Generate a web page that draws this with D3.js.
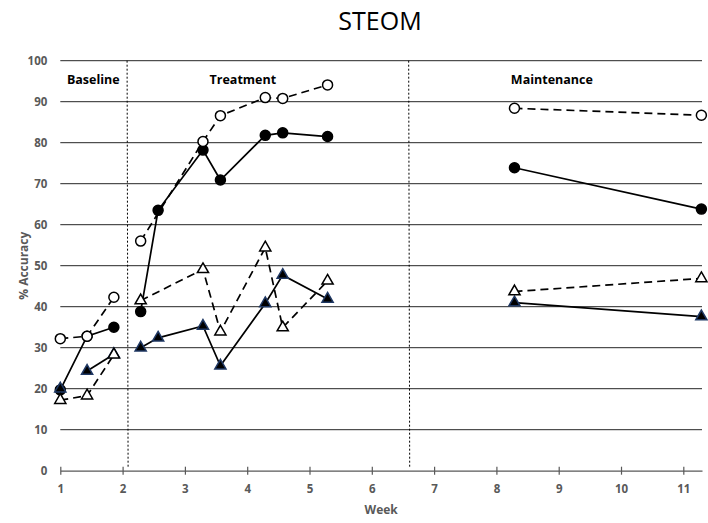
<!DOCTYPE html>
<html>
<head>
<meta charset="utf-8">
<script src="https://cdnjs.cloudflare.com/ajax/libs/d3/7.8.5/d3.min.js"></script>
<style>
  body { margin: 0; background: #fff; }
  text { font-family: "Open Sans", sans-serif; }
</style>
</head>
<body>
<div id="main"></div>
<script>
// data
var weeks = [1, 1.43, 1.86, 2.29, 2.57, 3.29, 3.57, 4.29, 4.57, 5.29, 8.29, 11.29];
// segment ids: lines only join points with the same id
var phaseIds = ["B", "B", "B", "T", "T", "T", "T", "T", "T", "T", "M", "M"];
var filledTriangleIds = ["B0", "B", "B", "T", "T", "T", "T", "T", "T", "T", "M", "M"];

var openCircle = [32.2, 32.8, 42.3, 56.0, null, 80.3, 86.6, 91.0, 90.8, 94.1, 88.4, 86.7];
var filledCircle = [19.7, 32.8, 35.0, 38.8, 63.5, 78.2, 70.9, 81.8, 82.4, 81.5, 73.9, 63.8];
var openTriangle = [17.2, 18.3, 28.3, 41.5, null, 49.1, 33.9, 54.4, 34.9, 46.3, 43.7, 46.9];
var filledTriangle = [20.0, 24.3, 28.4, 30.0, 32.4, 35.3, 25.6, 40.8, 47.7, 41.9, 41.0, 37.6];

var phaseLines = [2.08, 6.6];
var phaseLabels = [{name: "Baseline", at: 1.53}, {name: "Treatment", at: 3.93}, {name: "Maintenance", at: 8.89}];
var yTicks = [0, 10, 20, 30, 40, 50, 60, 70, 80, 90, 100];
var xTicks = [1, 2, 3, 4, 5, 6, 7, 8, 9, 10, 11];

var ctx = {
    w: 708,
    h: 523,
    left: 60.3,
    right: 702,
    top: 60.7,
    bottom: 470.7
};

var createViz = function(){
    var svgEl = d3.select("#main").append("svg")
        .attr("width", ctx.w)
        .attr("height", ctx.h);

    var x = d3.scaleLinear().domain([1, 11.3]).range([ctx.left, ctx.right]);
    var y = d3.scaleLinear().domain([0, 100]).range([ctx.bottom, ctx.top]);

    // title
    svgEl.append("text")
        .attr("x", 380).attr("y", 30)
        .attr("text-anchor", "middle")
        .attr("font-size", 25)
        .attr("fill", "#000")
        .text("STEOM");

    // horizontal grid
    svgEl.append("g")
        .selectAll("line")
        .data(yTicks.filter(function(d){ return d > 0; }))
        .enter().append("line")
        .attr("x1", ctx.left).attr("x2", ctx.right)
        .attr("y1", function(d){ return y(d); })
        .attr("y2", function(d){ return y(d); })
        .attr("stroke", "#262626")
        .attr("stroke-width", 1);

    // y axis labels
    var yAxis = d3.axisLeft(y).tickValues(yTicks).tickSize(0).tickPadding(13);
    var yG = svgEl.append("g")
        .attr("transform", "translate(" + ctx.left + ",0)")
        .call(yAxis);
    yG.select(".domain").remove();
    yG.selectAll("text")
        .attr("font-family", "Open Sans")
        .attr("font-size", 11.5)
        .attr("font-weight", "bold")
        .attr("fill", "#595959");

    // x axis
    var xAxis = d3.axisBottom(x).tickValues(xTicks).tickSizeInner(5).tickSizeOuter(0).tickPadding(9);
    var xG = svgEl.append("g")
        .attr("transform", "translate(0," + ctx.bottom + ")")
        .call(xAxis);
    xG.select(".domain").attr("stroke", "#595959").attr("stroke-width", 1.2);
    xG.selectAll(".tick line")
        .attr("stroke", "#595959").attr("stroke-width", 1.2)
        .attr("y1", -4).attr("y2", 4);
    xG.selectAll("text")
        .attr("font-family", "Open Sans")
        .attr("font-size", 11.5)
        .attr("font-weight", "bold")
        .attr("fill", "#595959");

    // axis titles
    svgEl.append("text")
        .attr("x", (ctx.left + ctx.right) / 2).attr("y", 514)
        .attr("text-anchor", "middle")
        .attr("font-size", 12).attr("font-weight", "bold")
        .attr("fill", "#595959")
        .text("Week");
    svgEl.append("text")
        .attr("transform", "translate(28," + ((ctx.top + ctx.bottom) / 2) + ") rotate(-90)")
        .attr("text-anchor", "middle")
        .attr("font-size", 12).attr("font-weight", "bold")
        .attr("fill", "#595959")
        .text("% Accuracy");

    // phase change lines
    svgEl.append("g")
        .selectAll("line")
        .data(phaseLines)
        .enter().append("line")
        .attr("x1", function(d){ return x(d) - 0.5; })
        .attr("x2", function(d){ return x(d) + 0.5; })
        .attr("y1", ctx.top).attr("y2", ctx.bottom - 4)
        .attr("stroke", "#000")
        .attr("stroke-width", 1)
        .attr("stroke-dasharray", "2,2");

    svgEl.append("g")
        .selectAll("text")
        .data(phaseLabels)
        .enter().append("text")
        .attr("x", function(d){ return x(d.at); })
        .attr("y", 84)
        .attr("text-anchor", "middle")
        .attr("font-size", 12.5).attr("font-weight", "bold")
        .attr("fill", "#000")
        .text(function(d){ return d.name; });

    drawSeries(svgEl, x, y, filledCircle, phaseIds, "none", "circle", "#000", "#000");
    drawSeries(svgEl, x, y, openCircle, phaseIds, "8,5", "circle", "#fff", "#000");
    drawSeries(svgEl, x, y, filledTriangle, filledTriangleIds, "none", "triangle", "#000", "#1f3864");
    drawSeries(svgEl, x, y, openTriangle, phaseIds, "8,5", "triangle", "#fff", "#000");
};

var drawSeries = function(svgEl, x, y, values, ids, dash, shape, fill, stroke){
    var pts = values.map(function(v, i){ return {x: weeks[i], v: v, id: ids[i]}; })
        .filter(function(d){ return d.v !== null; });
    var groups = d3.groups(pts, function(d){ return d.id; });
    var line = d3.line()
        .x(function(d){ return x(d.x); })
        .y(function(d){ return y(d.v); });
    var g = svgEl.append("g");
    g.selectAll("path.seg")
        .data(groups)
        .enter().append("path")
        .attr("class", "seg")
        .attr("d", function(d){ return line(d[1]); })
        .attr("fill", "none")
        .attr("stroke", "#000")
        .attr("stroke-width", 1.7)
        .attr("stroke-dasharray", dash);
    if (shape === "circle") {
        g.selectAll("circle")
            .data(pts)
            .enter().append("circle")
            .attr("cx", function(d){ return x(d.x); })
            .attr("cy", function(d){ return y(d.v); })
            .attr("r", 5)
            .attr("fill", fill)
            .attr("stroke", stroke)
            .attr("stroke-width", 1.5);
    } else {
        var sym = d3.symbol().type(d3.symbolTriangle).size(54);
        g.selectAll("path.mark")
            .data(pts)
            .enter().append("path")
            .attr("class", "mark")
            .attr("d", sym)
            .attr("transform", function(d){ return "translate(" + x(d.x) + "," + y(d.v) + ")"; })
            .attr("fill", fill)
            .attr("stroke", stroke)
            .attr("stroke-width", 1.5);
    }
};

createViz();
</script>
</body>
</html>
